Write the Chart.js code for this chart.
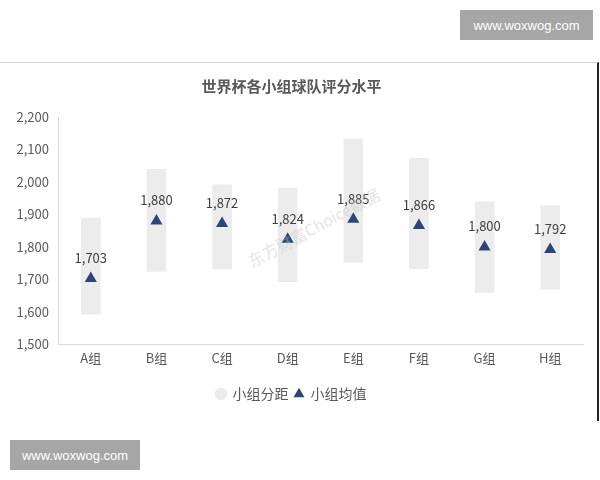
<!DOCTYPE html>
<html>
<head>
<meta charset="utf-8">
<script src="https://cdn.jsdelivr.net/npm/chart.js@4.4.1/dist/chart.umd.min.js"></script>
<style>
  body { margin: 0; background: #fff; width: 600px; height: 480px; position: relative; overflow: hidden; }
  .tag { position: absolute; background: #a6a6a6; color: #fff; font: 13px "Liberation Sans", Arial, sans-serif;
         display: flex; align-items: center; justify-content: center; }
  #frame { position: absolute; left: 0; top: 62px; width: 597px; height: 358px;
           border-top: 1px solid #d9d9d9; border-right: 2px solid #222; }
  #mark { position: absolute; left: 240px; top: 215px; transform: rotate(-28deg); color: rgba(190,190,190,0.45);
          font: 16px "Noto Sans CJK SC", sans-serif; white-space: nowrap; }
</style>
</head>
<body>
<div class="tag" style="left:460px;top:10px;width:133px;height:30px;">www.woxwog.com</div>
<div class="tag" style="left:10px;top:440px;width:130px;height:30px;">www.woxwog.com</div>
<div id="frame"><canvas id="myChart" width="597" height="358"></canvas></div>
<div id="mark">东方财富Choice数据</div>
<script>
var groups = ['A组', 'B组', 'C组', 'D组', 'E组', 'F组', 'G组', 'H组'];
var rangeLow = [1592, 1724, 1731, 1692, 1752, 1732, 1659, 1669];
var rangeHigh = [1890, 2040, 1992, 1982, 2133, 2074, 1940, 1928];
var meanScore = [1703, 1880, 1872, 1824, 1885, 1866, 1800, 1792];

var ctx = document.getElementById('myChart').getContext('2d');
var fontFam = '"Noto Sans CJK SC", "Noto Sans", sans-serif';

// 均值上方的数值标签
var valueLabels = {
    id: 'valueLabels',
    afterDatasetsDraw: function(chart) {
        var meta = chart.getDatasetMeta(1);
        var c = chart.ctx;
        c.save();
        c.font = '13px ' + fontFam;
        c.fillStyle = '#404040';
        c.textAlign = 'center';
        c.textBaseline = 'bottom';
        meta.data.forEach(function(pt, i) {
            c.fillText(meanScore[i].toLocaleString('en-US'), pt.x, pt.y - 14);
        });
        c.restore();
    }
};

var chart = new Chart(ctx, {
    type: 'bar',
    data: {
        labels: groups,
        datasets: [{
            label: '小组分距',
            data: groups.map((g, i) => [rangeLow[i], rangeHigh[i]]),
            backgroundColor: '#ececec',
            borderWidth: 0,
            barPercentage: 0.3,
            categoryPercentage: 1,
            pointStyle: 'circle',
            order: 2
        }, {
            type: 'line',
            label: '小组均值',
            data: meanScore,
            showLine: false,
            pointStyle: 'triangle',
            pointRadius: 7,
            pointHoverRadius: 7,
            backgroundColor: '#2b4676',
            borderColor: '#2b4676',
            borderWidth: 0,
            order: 1
        }]
    },
    options: {
        responsive: false,
        animation: false,
        layout: { padding: { top: 14, right: 14, left: 0, bottom: 10 } },
        plugins: {
            title: {
                display: true,
                text: '世界杯各小组球队评分水平',
                color: '#595959',
                font: { size: 15, weight: 'bold', family: fontFam },
                padding: { top: 0, bottom: 22 }
            },
            legend: {
                position: 'bottom',
                labels: {
                    usePointStyle: true,
                    boxWidth: 9,
                    boxHeight: 9,
                    padding: 6,
                    color: '#595959',
                    font: { size: 14, family: fontFam },
                    sort: (a, b) => a.datasetIndex - b.datasetIndex
                }
            },
            tooltip: { enabled: false }
        },
        scales: {
            x: {
                afterFit: function(s) { s.height += 9; },
                grid: { display: false, drawTicks: false },
                border: { color: '#d9d9d9' },
                ticks: { color: '#595959', padding: 6, font: { size: 13, family: fontFam } }
            },
            y: {
                min: 1500,
                max: 2200,
                afterFit: function(s) { s.width = 58; },
                grid: { display: false, drawTicks: true, tickLength: 5, tickColor: '#d9d9d9' },
                border: { color: '#d9d9d9' },
                ticks: {
                    stepSize: 100,
                    color: '#595959',
                    padding: 4,
                    font: { size: 13, family: fontFam },
                    callback: v => v.toLocaleString('en-US')
                }
            }
        }
    },
    plugins: [valueLabels]
});
</script>
</body>
</html>
